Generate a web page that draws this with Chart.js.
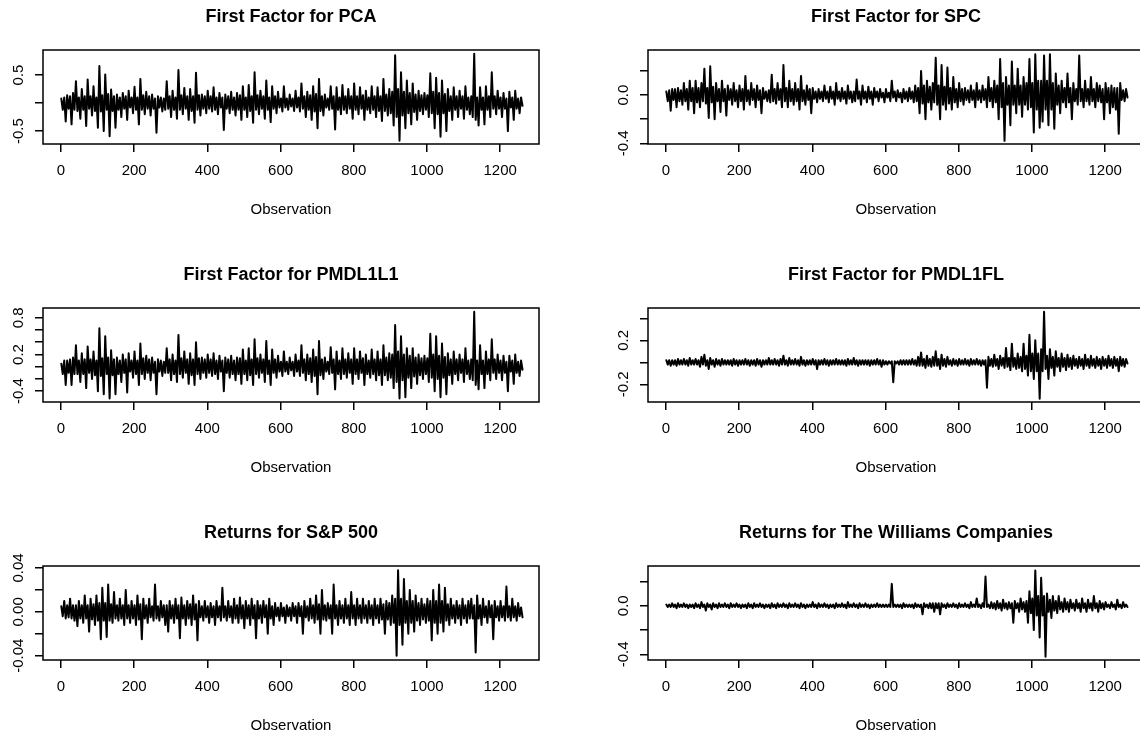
<!DOCTYPE html>
<html><head><meta charset="utf-8">
<script src="https://cdn.jsdelivr.net/npm/chart.js@4.4.1/dist/chart.umd.min.js"></script>
<style>
html,body{margin:0;padding:0;background:#fff;overflow:hidden;width:1140px;height:733px;position:relative}
canvas{position:absolute}
</style></head><body>
<canvas id="c0" width="605" height="258" style="left:0px;top:0px"></canvas>
<canvas id="c1" width="605" height="258" style="left:605px;top:0px"></canvas>
<canvas id="c2" width="605" height="258" style="left:0px;top:258px"></canvas>
<canvas id="c3" width="605" height="258" style="left:605px;top:258px"></canvas>
<canvas id="c4" width="605" height="258" style="left:0px;top:516px"></canvas>
<canvas id="c5" width="605" height="258" style="left:605px;top:516px"></canvas>
<script>
// ---------- data ----------
const OBS_STEP = 4;               // observations between successive stored samples
const xRange = [-49, 1306];
const xTicks = [0, 200, 400, 600, 800, 1000, 1200];
const xTickLabels = ['0', '200', '400', '600', '800', '1000', '1200'];
const xTitle = 'Observation';

const titles = ['First Factor for PCA', 'First Factor for SPC', 'First Factor for PMDL1L1',
                'First Factor for PMDL1FL', 'Returns for S&P 500', 'Returns for The Williams Companies'];

const pca = [
  0.08,-0.12,0.10,-0.33,0.14,-0.10,0.12,-0.38,0.18,-0.12,0.39,-0.14,0.10,-0.28,0.25,-0.12,0.12,-0.41,0.42,-0.10,
  0.12,-0.22,0.30,-0.14,0.10,-0.44,0.66,-0.15,0.14,-0.50,0.51,-0.12,0.16,-0.59,0.24,-0.14,0.12,-0.44,0.15,-0.12,
  0.10,-0.25,0.18,-0.10,0.12,-0.30,0.22,-0.08,0.10,-0.18,0.29,-0.12,0.10,-0.38,0.43,-0.12,0.14,-0.20,0.20,-0.10,
  0.12,-0.22,0.15,-0.10,0.08,-0.53,0.12,-0.08,0.10,-0.15,0.08,-0.12,0.39,-0.10,0.12,-0.25,0.22,-0.12,0.10,-0.28,
  0.59,-0.12,0.14,-0.20,0.27,-0.10,0.12,-0.30,0.25,-0.14,0.12,-0.35,0.54,-0.12,0.14,-0.22,0.15,-0.10,0.12,-0.18,
  0.22,-0.10,0.12,-0.15,0.28,-0.12,0.10,-0.20,0.18,-0.08,0.10,-0.48,0.15,-0.10,0.12,-0.18,0.20,-0.12,0.10,-0.22,
  0.18,-0.12,0.14,-0.30,0.30,-0.12,0.10,-0.25,0.32,-0.14,0.12,-0.35,0.55,-0.12,0.14,-0.20,0.22,-0.10,0.12,-0.28,
  0.40,-0.12,0.10,-0.34,0.30,-0.10,0.12,-0.18,0.20,-0.08,0.08,-0.15,0.30,-0.08,0.08,-0.12,0.15,-0.06,0.08,-0.14,
  0.22,-0.08,0.10,-0.15,0.35,-0.10,0.12,-0.25,0.20,-0.12,0.14,-0.30,0.30,-0.15,0.16,-0.45,0.43,-0.14,0.12,-0.22,
  0.15,-0.08,0.08,-0.12,0.30,-0.10,0.12,-0.47,0.28,-0.12,0.10,-0.20,0.32,-0.12,0.12,-0.18,0.25,-0.10,0.12,-0.28,
  0.35,-0.12,0.12,-0.20,0.28,-0.10,0.14,-0.30,0.22,-0.12,0.10,-0.18,0.30,-0.12,0.12,-0.25,0.28,-0.14,0.12,-0.32,
  0.43,-0.14,0.15,-0.22,0.25,-0.18,0.20,-0.40,0.85,-0.25,0.25,-0.67,0.55,-0.22,0.20,-0.45,0.40,-0.18,0.18,-0.38,
  0.35,-0.16,0.15,-0.30,0.22,-0.14,0.14,-0.20,0.18,-0.12,0.14,-0.25,0.53,-0.18,0.20,-0.45,0.45,-0.20,0.18,-0.60,
  0.40,-0.18,0.16,-0.50,0.25,-0.14,0.12,-0.30,0.28,-0.12,0.12,-0.25,0.22,-0.10,0.12,-0.28,0.30,-0.12,0.10,-0.20,
  0.12,-0.25,0.88,-0.30,0.10,-0.40,0.28,-0.12,0.10,-0.38,0.30,-0.12,0.12,-0.25,0.55,-0.10,0.12,-0.20,0.22,-0.10,
  0.10,-0.25,0.18,-0.10,0.08,-0.50,0.20,-0.08,0.10,-0.30,0.22,-0.10,0.08,-0.18,0.10,-0.05
];
const spc = [
  0.03,-0.05,0.04,-0.13,0.05,-0.04,0.05,-0.10,0.06,-0.05,0.04,-0.08,0.10,-0.05,0.05,-0.12,0.12,-0.05,0.06,-0.15,
  0.12,-0.06,0.06,-0.10,0.10,-0.05,0.22,-0.07,0.06,-0.19,0.24,-0.06,0.07,-0.20,0.10,-0.05,0.05,-0.14,0.12,-0.05,
  0.05,-0.17,0.08,-0.04,0.05,-0.08,0.10,-0.05,0.04,-0.10,0.08,-0.05,0.05,-0.12,0.16,-0.05,0.04,-0.08,0.10,-0.04,
  0.05,-0.10,0.08,-0.04,0.04,-0.15,0.06,-0.03,0.03,-0.05,0.04,-0.06,0.17,-0.05,0.05,-0.07,0.10,-0.04,0.05,-0.10,
  0.25,-0.05,0.06,-0.10,0.12,-0.05,0.05,-0.08,0.10,-0.05,0.05,-0.12,0.16,-0.05,0.04,-0.08,0.08,-0.04,0.05,-0.15,
  0.06,-0.03,0.03,-0.06,0.05,-0.03,0.03,-0.05,0.08,-0.03,0.03,-0.06,0.07,-0.03,0.03,-0.08,0.10,-0.03,0.03,-0.05,
  0.06,-0.03,0.03,-0.07,0.08,-0.03,0.03,-0.06,0.03,-0.05,0.13,-0.03,0.03,-0.08,0.08,-0.03,0.03,-0.06,0.07,-0.03,
  0.03,-0.08,0.06,-0.02,0.03,-0.05,0.05,-0.02,0.02,-0.06,0.05,-0.02,0.02,-0.05,0.12,-0.02,0.03,-0.05,0.04,-0.02,
  0.02,-0.06,0.05,-0.03,0.03,-0.05,0.06,-0.03,0.03,-0.06,0.08,-0.05,0.06,-0.15,0.20,-0.07,0.08,-0.20,0.12,-0.06,
  0.07,-0.12,0.10,-0.06,0.31,-0.08,0.08,-0.20,0.25,-0.08,0.07,-0.12,0.23,-0.07,0.06,-0.12,0.15,-0.06,0.05,-0.10,
  0.10,-0.05,0.05,-0.08,0.06,-0.04,0.04,-0.06,0.08,-0.04,0.04,-0.10,0.10,-0.04,0.04,-0.06,0.08,-0.04,0.05,-0.10,
  0.15,-0.05,0.06,-0.10,0.12,-0.06,0.08,-0.20,0.30,-0.10,0.10,-0.38,0.15,-0.08,0.08,-0.25,0.28,-0.08,0.08,-0.15,
  0.22,-0.08,0.08,-0.18,0.15,-0.08,0.10,-0.12,0.30,-0.10,0.10,-0.31,0.34,-0.12,0.12,-0.27,0.12,-0.22,0.33,-0.12,
  0.12,-0.25,0.34,-0.12,0.10,-0.28,0.18,-0.08,0.08,-0.15,0.12,-0.06,0.06,-0.10,0.18,-0.06,0.06,-0.20,0.10,-0.05,
  0.05,-0.08,0.33,-0.05,0.05,-0.10,0.12,-0.05,0.05,-0.08,0.15,-0.05,0.05,-0.10,0.10,-0.05,0.08,-0.06,0.05,-0.20,
  0.10,-0.06,0.06,-0.15,0.08,-0.10,0.06,-0.12,0.06,-0.32,0.10,-0.04,0.04,-0.05,0.05,-0.02
];
const pmdl1l1 = [
  0.05,-0.12,0.10,-0.30,0.10,-0.10,0.12,-0.30,0.15,-0.12,0.35,-0.12,0.10,-0.25,0.22,-0.12,0.12,-0.35,0.33,-0.10,
  0.12,-0.20,0.25,-0.14,0.10,-0.40,0.63,-0.15,0.14,-0.45,0.50,-0.12,0.15,-0.52,0.27,-0.14,0.12,-0.45,0.15,-0.12,
  0.10,-0.25,0.20,-0.10,0.12,-0.42,0.22,-0.08,0.10,-0.18,0.25,-0.12,0.10,-0.30,0.38,-0.12,0.14,-0.20,0.18,-0.10,
  0.12,-0.22,0.15,-0.10,0.08,-0.45,0.12,-0.08,0.10,-0.15,0.08,-0.10,0.30,-0.10,0.12,-0.22,0.20,-0.12,0.10,-0.25,
  0.52,-0.12,0.14,-0.18,0.25,-0.10,0.12,-0.28,0.22,-0.14,0.12,-0.30,0.40,-0.12,0.14,-0.20,0.15,-0.10,0.12,-0.18,
  0.20,-0.10,0.12,-0.15,0.22,-0.12,0.10,-0.20,0.18,-0.08,0.10,-0.40,0.15,-0.10,0.12,-0.18,0.18,-0.12,0.10,-0.22,
  0.15,-0.12,0.14,-0.28,0.28,-0.12,0.10,-0.22,0.30,-0.14,0.12,-0.30,0.45,-0.12,0.14,-0.18,0.20,-0.10,0.12,-0.25,
  0.42,-0.12,0.10,-0.30,0.28,-0.10,0.12,-0.18,0.18,-0.08,0.08,-0.15,0.25,-0.08,0.08,-0.12,0.15,-0.06,0.08,-0.15,
  0.20,-0.08,0.10,-0.15,0.35,-0.10,0.12,-0.22,0.20,-0.12,0.14,-0.25,0.28,-0.15,0.16,-0.45,0.42,-0.14,0.12,-0.20,
  0.15,-0.08,0.08,-0.12,0.32,-0.10,0.12,-0.37,0.25,-0.12,0.10,-0.20,0.30,-0.12,0.12,-0.18,0.22,-0.10,0.12,-0.28,
  0.30,-0.12,0.12,-0.20,0.25,-0.10,0.14,-0.30,0.20,-0.12,0.10,-0.18,0.28,-0.12,0.12,-0.22,0.25,-0.14,0.12,-0.30,
  0.35,-0.14,0.15,-0.22,0.22,-0.18,0.20,-0.35,0.68,-0.25,0.25,-0.52,0.50,-0.22,0.20,-0.50,0.30,-0.18,0.18,-0.35,
  0.30,-0.16,0.15,-0.28,0.20,-0.14,0.14,-0.20,0.18,-0.12,0.14,-0.25,0.54,-0.18,0.20,-0.40,0.50,-0.20,0.18,-0.50,
  0.38,-0.18,0.16,-0.45,0.22,-0.14,0.12,-0.28,0.25,-0.12,0.12,-0.22,0.20,-0.10,0.12,-0.25,0.30,-0.12,0.10,-0.20,
  0.12,-0.22,0.90,-0.30,0.10,-0.37,0.35,-0.12,0.10,-0.35,0.25,-0.12,0.12,-0.22,0.45,-0.10,0.12,-0.20,0.20,-0.10,
  0.10,-0.22,0.18,-0.10,0.08,-0.40,0.18,-0.08,0.10,-0.28,0.20,-0.10,0.08,-0.15,0.10,-0.05
];
const pmdl1fl = [
  0.02,-0.02,0.02,-0.03,0.02,-0.02,0.02,-0.03,0.03,-0.02,0.02,-0.02,0.03,-0.02,0.02,-0.03,0.04,-0.02,0.02,-0.02,
  0.03,-0.02,0.02,-0.04,0.05,-0.02,0.07,-0.03,0.02,-0.06,0.04,-0.02,0.02,-0.04,0.03,-0.02,0.02,-0.03,0.03,-0.02,
  0.02,-0.02,0.02,-0.02,0.02,-0.03,0.03,-0.02,0.02,-0.03,0.02,-0.02,0.02,-0.02,0.03,-0.02,0.02,-0.03,0.02,-0.02,
  0.02,-0.03,0.03,-0.02,0.02,-0.04,0.02,-0.02,0.02,-0.02,0.04,-0.02,0.02,-0.02,0.03,-0.02,0.02,-0.03,0.03,-0.02,
  0.06,-0.02,0.02,-0.03,0.04,-0.02,0.02,-0.02,0.03,-0.02,0.02,-0.03,0.05,-0.02,0.02,-0.03,0.02,-0.02,0.02,-0.02,
  0.03,-0.02,0.02,-0.06,0.02,-0.02,0.02,-0.02,0.03,-0.02,0.02,-0.03,0.02,-0.02,0.02,-0.02,0.03,-0.02,0.02,-0.02,
  0.02,-0.02,0.02,-0.03,0.03,-0.02,0.02,-0.02,0.04,-0.02,0.02,-0.03,0.02,-0.02,0.02,-0.02,0.02,-0.02,0.02,-0.03,
  0.02,-0.02,0.02,-0.02,0.03,-0.02,0.02,-0.04,0.02,-0.02,0.01,-0.02,0.01,-0.01,0.01,-0.18,0.01,-0.01,0.01,-0.02,
  0.02,-0.02,0.02,-0.02,0.02,-0.02,0.02,-0.02,0.03,-0.02,0.02,-0.03,0.05,-0.03,0.09,-0.03,0.03,-0.05,0.06,-0.03,
  0.03,-0.04,0.05,-0.03,0.10,-0.03,0.03,-0.06,0.07,-0.03,0.03,-0.04,0.05,-0.02,0.02,-0.03,0.03,-0.02,0.02,-0.03,
  0.03,-0.02,0.02,-0.02,0.03,-0.02,0.02,-0.03,0.03,-0.02,0.02,-0.02,0.03,-0.02,0.02,-0.03,0.02,-0.02,0.02,-0.23,
  0.05,-0.03,0.03,-0.04,0.07,-0.03,0.03,-0.06,0.06,-0.03,0.04,-0.05,0.13,-0.04,0.04,-0.07,0.17,-0.04,0.04,-0.06,
  0.08,-0.05,0.05,-0.08,0.17,-0.06,0.06,-0.12,0.25,-0.08,0.08,-0.15,0.20,-0.08,0.08,-0.33,0.12,-0.08,0.46,-0.06,
  0.06,-0.15,0.12,-0.05,0.05,-0.12,0.10,-0.04,0.04,-0.08,0.08,-0.04,0.04,-0.07,0.07,-0.04,0.04,-0.06,0.06,-0.03,
  0.03,-0.05,0.05,-0.03,0.03,-0.06,0.07,-0.03,0.03,-0.05,0.06,-0.03,0.03,-0.05,0.05,-0.03,0.03,-0.06,0.05,-0.03,
  0.03,-0.05,0.06,-0.03,0.03,-0.05,0.05,-0.03,0.03,-0.08,0.05,-0.03,0.03,-0.04,0.03,-0.01
];
const sp500 = [
  0.005,-0.004,0.010,-0.006,0.006,-0.005,0.012,-0.006,0.006,-0.008,0.006,-0.013,0.010,-0.006,0.006,-0.010,0.015,-0.006,0.006,-0.018,
  0.012,-0.007,0.007,-0.012,0.015,-0.008,0.008,-0.025,0.022,-0.008,0.008,-0.023,0.025,-0.008,0.007,-0.010,0.018,-0.006,0.006,-0.008,
  0.012,-0.006,0.006,-0.012,0.020,-0.006,0.006,-0.010,0.010,-0.006,0.006,-0.012,0.015,-0.007,0.007,-0.025,0.012,-0.006,0.006,-0.010,
  0.012,-0.005,0.005,-0.008,0.025,-0.006,0.005,-0.008,0.010,-0.005,0.006,-0.012,0.006,-0.018,0.010,-0.006,0.006,-0.010,0.012,-0.006,
  0.006,-0.024,0.013,-0.006,0.006,-0.012,0.010,-0.006,0.007,-0.012,0.015,-0.007,0.007,-0.026,0.010,-0.005,0.005,-0.008,0.010,-0.005,
  0.005,-0.010,0.008,-0.005,0.005,-0.012,0.010,-0.005,0.005,-0.008,0.022,-0.005,0.005,-0.008,0.010,-0.005,0.005,-0.010,0.012,-0.006,
  0.006,-0.010,0.013,-0.006,0.006,-0.015,0.010,-0.006,0.006,-0.012,0.012,-0.006,0.006,-0.024,0.010,-0.006,0.006,-0.010,0.010,-0.005,
  0.006,-0.020,0.012,-0.006,0.005,-0.012,0.008,-0.004,0.004,-0.008,0.008,-0.004,0.004,-0.010,0.006,-0.004,0.004,-0.008,0.008,-0.004,
  0.005,-0.010,0.008,-0.004,0.005,-0.020,0.010,-0.005,0.005,-0.008,0.012,-0.006,0.006,-0.010,0.015,-0.007,0.007,-0.020,0.020,-0.007,
  0.006,-0.008,0.008,-0.006,0.006,-0.020,0.025,-0.006,0.006,-0.012,0.010,-0.006,0.006,-0.010,0.012,-0.006,0.006,-0.012,0.018,-0.006,
  0.006,-0.012,0.012,-0.006,0.006,-0.010,0.012,-0.006,0.006,-0.010,0.010,-0.006,0.006,-0.012,0.012,-0.006,0.006,-0.010,0.012,-0.007,
  0.007,-0.020,0.010,-0.007,0.008,-0.012,0.015,-0.010,0.012,-0.040,0.038,-0.012,0.012,-0.030,0.030,-0.010,0.010,-0.020,0.020,-0.010,
  0.010,-0.018,0.015,-0.008,0.008,-0.012,0.012,-0.007,0.007,-0.010,0.012,-0.008,0.010,-0.026,0.020,-0.010,0.010,-0.020,0.025,-0.010,
  0.010,-0.018,0.022,-0.008,0.007,-0.012,0.012,-0.006,0.006,-0.010,0.010,-0.006,0.006,-0.012,0.012,-0.006,0.006,-0.010,0.010,-0.006,
  0.012,-0.006,0.006,-0.037,0.015,-0.006,0.006,-0.012,0.012,-0.005,0.005,-0.010,0.010,-0.005,0.006,-0.025,0.010,-0.005,0.005,-0.008,
  0.010,-0.005,0.005,-0.008,0.023,-0.005,0.005,-0.008,0.012,-0.005,0.005,-0.008,0.008,-0.004,0.004,-0.005
];
const williams = [
  0.01,-0.01,0.01,-0.01,0.02,-0.01,0.01,-0.02,0.02,-0.01,0.01,-0.01,0.02,-0.01,0.01,-0.02,0.01,-0.01,0.01,-0.02,
  0.02,-0.01,0.01,-0.02,0.03,-0.01,0.01,-0.04,0.02,-0.01,0.01,-0.03,0.02,-0.01,0.01,-0.02,0.02,-0.01,0.01,-0.01,
  0.02,-0.01,0.01,-0.02,0.02,-0.01,0.01,-0.01,0.02,-0.01,0.01,-0.02,0.01,-0.01,0.01,-0.02,0.02,-0.01,0.01,-0.02,
  0.02,-0.01,0.01,-0.01,0.02,-0.01,0.01,-0.02,0.01,-0.01,0.01,-0.02,0.02,-0.01,0.01,-0.02,0.02,-0.01,0.01,-0.01,
  0.02,-0.01,0.01,-0.02,0.02,-0.01,0.01,-0.01,0.02,-0.01,0.01,-0.02,0.02,-0.01,0.01,-0.02,0.01,-0.01,0.01,-0.01,
  0.03,-0.01,0.01,-0.02,0.02,-0.01,0.01,-0.01,0.02,-0.01,0.01,-0.02,0.01,-0.01,0.01,-0.02,0.02,-0.01,0.01,-0.01,
  0.02,-0.01,0.01,-0.02,0.03,-0.01,0.01,-0.01,0.02,-0.01,0.01,-0.02,0.02,-0.01,0.01,-0.01,0.02,-0.01,0.01,-0.02,
  0.01,-0.01,0.01,-0.01,0.02,-0.01,0.01,-0.01,0.01,-0.01,0.01,-0.01,0.01,-0.01,0.18,-0.01,0.01,-0.01,0.01,-0.01,
  0.01,-0.02,0.02,-0.01,0.01,-0.01,0.01,-0.01,0.01,-0.02,0.02,-0.01,0.01,-0.01,0.01,-0.07,0.02,-0.01,0.01,-0.02,
  0.02,-0.02,0.02,-0.05,0.02,-0.02,0.02,-0.07,0.02,-0.01,0.01,-0.02,0.02,-0.01,0.01,-0.01,0.02,-0.01,0.01,-0.02,
  0.02,-0.01,0.01,-0.01,0.02,-0.01,0.01,-0.02,0.03,-0.01,0.01,-0.01,0.06,-0.01,0.01,-0.02,0.02,-0.01,0.24,-0.01,
  0.01,-0.02,0.03,-0.02,0.02,-0.03,0.04,-0.02,0.02,-0.04,0.05,-0.02,0.02,-0.03,0.03,-0.02,0.02,-0.14,0.04,-0.02,
  0.02,-0.05,0.06,-0.03,0.03,-0.05,0.04,-0.14,0.12,-0.06,0.06,-0.20,0.29,-0.08,0.08,-0.26,0.23,-0.08,0.08,-0.42,
  0.10,-0.05,0.05,-0.10,0.08,-0.04,0.04,-0.06,0.08,-0.03,0.03,-0.05,0.06,-0.03,0.03,-0.05,0.05,-0.02,0.02,-0.04,
  0.05,-0.02,0.02,-0.05,0.06,-0.02,0.02,-0.05,0.05,-0.02,0.02,-0.04,0.08,-0.02,0.02,-0.05,0.04,-0.02,0.02,-0.03,
  0.03,-0.01,0.01,-0.02,0.03,-0.01,0.01,-0.03,0.05,-0.01,0.01,-0.02,0.03,-0.01,0.01,-0.01
];

const yTicksPCA = [-0.5, 0, 0.5];                 const yLabelsPCA = ['-0.5', '', '0.5'];
const yTicksSPC = [-0.4, -0.2, 0, 0.2];           const yLabelsSPC = ['-0.4', '', '0.0', ''];
const yTicksL1L1 = [-0.4, -0.2, 0, 0.2, 0.4, 0.6, 0.8];
const yLabelsL1L1 = ['-0.4', '', '', '0.2', '', '', '0.8'];
const yTicksL1FL = [-0.2, 0, 0.2, 0.4];           const yLabelsL1FL = ['-0.2', '', '0.2', ''];
const yTicksSP = [-0.04, -0.02, 0, 0.02, 0.04];   const yLabelsSP = ['-0.04', '', '0.00', '', '0.04'];
const yTicksWMB = [-0.4, -0.2, 0, 0.2];           const yLabelsWMB = ['-0.4', '', '0.0', ''];

const yRangePCA = [-0.73, 0.945];
const yRangeSPC = [-0.406, 0.375];
const yRangeL1L1 = [-0.577, 0.96];
const yRangeL1FL = [-0.36, 0.494];
const yRangeSP = [-0.0439, 0.0418];
const yRangeWMB = [-0.446, 0.327];

// ---------- drawing ----------
const FAMILY = '"Liberation Sans", Arial, sans-serif';
const panels = [
  { id: 'c0', title: titles[0], values: pca,      yTicks: yTicksPCA,  yLabels: yLabelsPCA,  yRange: yRangePCA },
  { id: 'c1', title: titles[1], values: spc,      yTicks: yTicksSPC,  yLabels: yLabelsSPC,  yRange: yRangeSPC },
  { id: 'c2', title: titles[2], values: pmdl1l1,  yTicks: yTicksL1L1, yLabels: yLabelsL1L1, yRange: yRangeL1L1 },
  { id: 'c3', title: titles[3], values: pmdl1fl,  yTicks: yTicksL1FL, yLabels: yLabelsL1FL, yRange: yRangeL1FL },
  { id: 'c4', title: titles[4], values: sp500,    yTicks: yTicksSP,   yLabels: yLabelsSP,   yRange: yRangeSP },
  { id: 'c5', title: titles[5], values: williams, yTicks: yTicksWMB,  yLabels: yLabelsWMB,  yRange: yRangeWMB }
];

const measureCtx = document.createElement('canvas').getContext('2d');
measureCtx.font = '15px ' + FAMILY;
function widest(labels) {
  return Math.max(...labels.map(l => measureCtx.measureText(l).width));
}

const boxPlugin = {
  id: 'rbox',
  afterDatasetsDraw(chart) {
    const { ctx, chartArea: a } = chart;
    ctx.save();
    ctx.strokeStyle = '#000';
    ctx.lineWidth = 1.5;
    ctx.strokeRect(a.left, a.top, a.right - a.left, a.bottom - a.top);
    ctx.restore();
  }
};

const gridOpts = { display: true, drawOnChartArea: false, drawTicks: true, tickLength: 8, color: '#000', lineWidth: 1.5 };

panels.forEach(p => {
  const w = widest(p.yLabels);
  new Chart(document.getElementById(p.id), {
    type: 'line',
    data: {
      datasets: [{
        data: p.values.map((v, i) => ({ x: 1 + i * OBS_STEP, y: v })),
        borderColor: '#000',
        borderWidth: 2,
        borderJoinStyle: 'round',
        borderCapStyle: 'round',
        pointRadius: 0,
        tension: 0,
        fill: false
      }]
    },
    options: {
      responsive: false,
      animation: false,
      devicePixelRatio: 1,
      events: [],
      layout: { padding: { left: 0, right: 66, top: 0, bottom: 0 } },
      plugins: {
        legend: { display: false },
        tooltip: { enabled: false },
        title: {
          display: true, text: p.title, fullSize: false, color: '#000',
          font: { family: FAMILY, size: 18, weight: 'bold' },
          padding: { top: 6.7, bottom: 21.7 }
        }
      },
      scales: {
        x: {
          type: 'linear', position: 'bottom', min: xRange[0], max: xRange[1],
          afterBuildTicks: s => { s.ticks = xTicks.map(v => ({ value: v })); },
          afterFit: s => { s.height = 114; },
          ticks: {
            autoSkip: false, minRotation: 0, maxRotation: 0, padding: 10, color: '#000',
            font: { family: FAMILY, size: 15 },
            callback: (v, i) => xTickLabels[i]
          },
          grid: gridOpts,
          border: { display: false },
          title: { display: true, text: xTitle, color: '#000', font: { family: FAMILY, size: 15 }, padding: { top: 0, bottom: 39 } }
        },
        y: {
          type: 'linear', position: 'left', min: p.yRange[0], max: p.yRange[1],
          afterBuildTicks: s => { s.ticks = p.yTicks.map(v => ({ value: v })); },
          afterFit: s => { s.width = 43; },
          ticks: {
            autoSkip: false, minRotation: 90, maxRotation: 90, crossAlign: 'center',
            padding: 16.5 - w / 2, color: '#000',
            font: { family: FAMILY, size: 15 },
            callback: (v, i) => p.yLabels[i]
          },
          grid: gridOpts,
          border: { display: false }
        }
      }
    },
    plugins: [boxPlugin]
  });
});
</script>
</body></html>
